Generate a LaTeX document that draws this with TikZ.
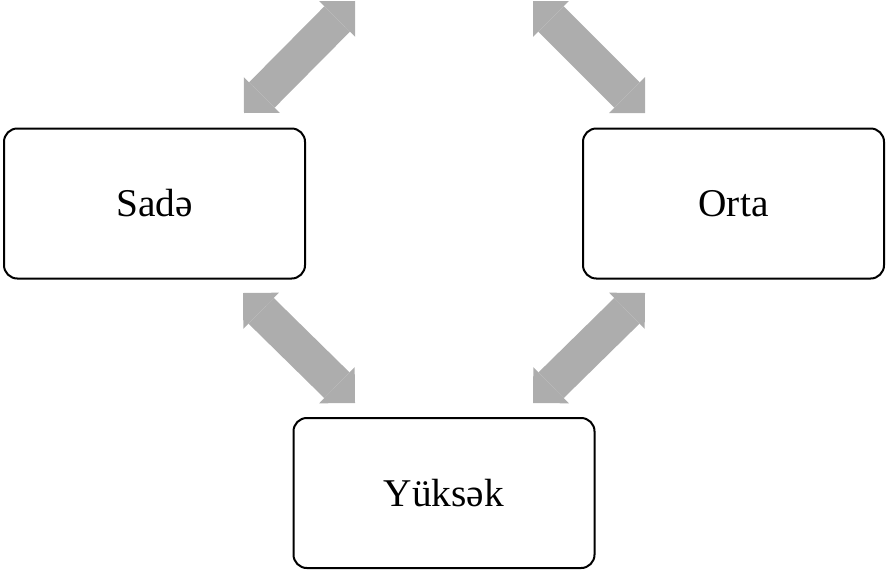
\documentclass[tikz,border=0pt]{standalone}
\usepackage{fontspec}
\setmainfont{Liberation Serif}
\usetikzlibrary{arrows.meta}
\definecolor{linkgray}{HTML}{ADADAD}
\tikzset{
  level/.style={rectangle, rounded corners=10pt, draw=black, line width=1.5pt,
                minimum width=225.75pt, minimum height=112.5pt,
                font=\fontsize{29.5}{36}\selectfont},
  link/.style={draw=linkgray, line width=27pt,
               {Triangle[width=38pt,length=19pt,line width=0pt]}-{Triangle[width=38pt,length=19pt,line width=0pt]}},
}
\begin{document}
\begin{tikzpicture}[x=0.75pt, y=-0.75pt]
\useasboundingbox (0,0) rectangle (887,571);
\node[level] (sade)   at (154.5,203.5) {Sadə};
\node[level] (orta)   at (733.5,203.5) {Orta};
\node[level] (yuksek) at (444,493)     {Yüksək};

% ends of the arrows
\coordinate (sadeup)    at (244,113);
\coordinate (leftout)   at (355,1);
\coordinate (rightout)  at (533,1);
\coordinate (ortaup)    at (645,113);
\coordinate (sadedown)  at (243,293);
\coordinate (yukleft)   at (355,403);
\coordinate (yukright)  at (533,403);
\coordinate (ortadown)  at (645,293);

\draw[link] (sadeup) -- (leftout);
\draw[link] (rightout) -- (ortaup);
\draw[link] (sadedown) -- (yukleft);
\draw[link] (yukright) -- (ortadown);
\end{tikzpicture}
\end{document}
